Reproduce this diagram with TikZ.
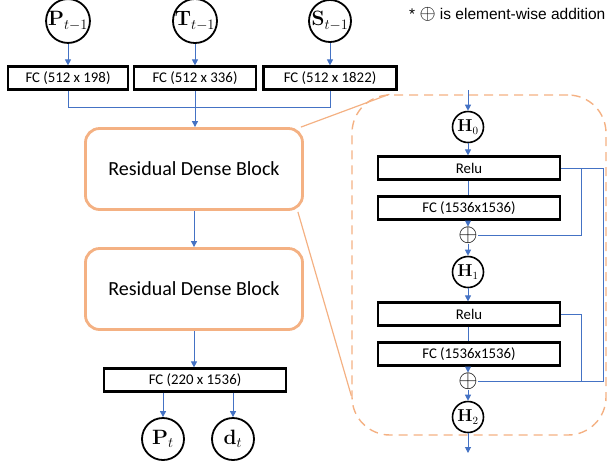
\documentclass[tikz,border=0pt]{standalone}
\usepackage[no-math]{fontspec}
\setmainfont{Carlito}
\newfontfamily\arialf{Liberation Sans}
\usetikzlibrary{arrows.meta,calc}
\definecolor{bl}{RGB}{68,114,196}
\definecolor{orng}{RGB}{244,177,131}
\tikzset{
  circ/.style={circle,draw=black,line width=1.8pt,minimum size=42pt,inner sep=0pt,font=\fontsize{20}{20}\selectfont},
  hcirc/.style={circle,draw=black,line width=1.6pt,minimum size=31pt,inner sep=0pt,font=\fontsize{16}{16}\selectfont},
  fcbox/.style={draw=black,line width=2.2pt,minimum height=23pt,inner sep=0pt,font=\fontsize{14.8}{15}\selectfont},
  rdb/.style={draw=orng,line width=2.8pt,rounded corners=14pt,minimum width=217pt,minimum height=81pt,font=\fontsize{20}{22}\selectfont},
  blline/.style={draw=bl,line width=1pt},
  arr/.style={blline,-{Triangle[width=6pt,length=6pt]}},
  plus/.style={inner sep=0pt,font=\fontsize{25}{25}\selectfont},
  panel/.style={draw=orng,line width=1.4pt,dash pattern=on 9pt off 6pt,rounded corners=38pt,minimum width=254pt,minimum height=340pt},
  conn/.style={draw=orng,line width=1.2pt}
}
\begin{document}
\begin{tikzpicture}[x=1pt,y=-1pt]
\useasboundingbox (0,0) rectangle (608,467);
% inputs
\node[circ] (pin) at (68,21) {$\mathbf{P}_{t-1}$};
\node[circ] (tin) at (195,21) {$\mathbf{T}_{t-1}$};
\node[circ] (sin) at (330,21) {$\mathbf{S}_{t-1}$};
\node[fcbox,minimum width=120pt] (fc1) at (68,78) {FC (512 x 198)};
\node[fcbox,minimum width=122pt] (fc2) at (195,78) {FC (512 x 336)};
\node[fcbox,minimum width=133pt] (fc3) at (330,78) {FC (512 x 1822)};
\draw[arr] (pin) -- (fc1);
\draw[arr] (tin) -- (fc2);
\draw[arr] (sin) -- (fc3);
\coordinate (j) at (195,107);
\draw[blline] (fc1.south) |- (j);
\draw[blline] (fc3.south) |- (j);
% blocks
\node[rdb] (rdb1) at (194,169) {Residual Dense Block};
\node[rdb] (rdb2) at (194,289) {Residual Dense Block};
\draw[arr] (fc2.south) -- (rdb1.north -| fc2.south);
\draw[arr] (rdb1) -- (rdb2);
\node[fcbox,minimum width=182pt] (fco) at (195,380) {FC (220 x 1536)};
\draw[arr] (rdb2.south) -- (fco.north -| rdb2.south);
\node[circ] (pt) at (163,439) {$\mathbf{P}_{t}$};
\node[circ] (dt) at (233,439) {$\mathbf{d}_{t}$};
\draw[arr] (fco.south -| pt) -- (pt);
\draw[arr] (fco.south -| dt) -- (dt);
% note
\node[anchor=west,inner sep=0pt,font=\arialf\fontsize{15.5}{16}\selectfont] (note) at (409,14) {* {\fontsize{21}{21}\selectfont$\oplus$} is element-wise addition};
% panel
\node[panel] (pan) at (479,265) {};
\draw[conn] ($(rdb1.north east)+(-3,0)$) -- ($(pan.north west)+(38,0)$);
\draw[conn] ($(rdb1.south east)+(-6,1)$) -- ($(pan.south west)+(0,-40)$);
\coordinate (hin) at (468,90);
\node[hcirc] (h0) at (468,127) {$\mathbf{H}_0$};
\node[fcbox,minimum width=182pt] (relu1) at (469,168) {Relu};
\node[fcbox,minimum width=182pt] (fca) at (469,208) {FC (1536x1536)};
\node[plus] (ox1) at (468,235) {$\oplus$};
\node[hcirc] (h1) at (468,272) {$\mathbf{H}_1$};
\node[fcbox,minimum width=182pt] (relu2) at (469,314) {Relu};
\node[fcbox,minimum width=182pt] (fcb) at (469,354) {FC (1536x1536)};
\node[plus] (ox2) at (468,381) {$\oplus$};
\node[hcirc] (h2) at (468,417) {$\mathbf{H}_2$};
\coordinate (hout) at (468,453);
\draw[arr] (hin) -- (h0);
\draw[arr] (h0) -- (relu1.north -| h0);
\draw[blline] (relu1.south -| h0) -- (fca.north -| h0);
\draw[arr] (fca.south -| h0) -- (ox1);
\draw[arr] (ox1) -- (h1);
\draw[arr] (h1) -- (relu2.north -| h1);
\draw[blline] (relu2.south -| h1) -- (fcb.north -| h1);
\draw[arr] (fcb.south -| h1) -- (ox2);
\draw[arr] (ox2) -- (h2);
\draw[arr] (h2) -- (hout);
% skip connections
\coordinate (sa) at (581,168);
\coordinate (sb) at (603,168);
\coordinate (sc) at (581,314);
\draw[blline] (relu1.east) -- (sb) |- (ox2.east);
\draw[blline] (sa) |- (ox1.east);
\draw[blline] (relu2.east) -- (sc) |- (ox2.east);
\end{tikzpicture}
\end{document}
